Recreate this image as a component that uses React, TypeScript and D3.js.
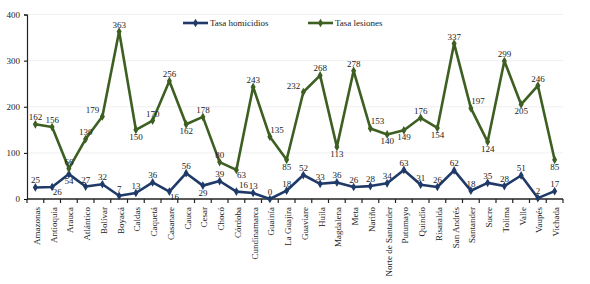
import React, { useRef, useEffect } from "react";
import * as d3 from "d3";

const departamentos = [
  "Amazonas", "Antioquia", "Arauca", "Atlántico", "Bolívar", "Boyacá", "Caldas", "Caquetá",
  "Casanare", "Cauca", "Cesar", "Chocó", "Córdoba", "Cundinamarca", "Guainía", "La Guajira",
  "Guaviare", "Huila", "Magdalena", "Meta", "Nariño", "Norte de Santander", "Putumayo", "Quindío",
  "Risaralda", "San Andrés", "Santander", "Sucre", "Tolima", "Valle", "Vaupés", "Vichada",
];

const tasaHomicidios = [
  25, 26, 54, 27, 32, 7, 13, 36, 16, 56, 29, 39, 16, 13, 0, 18,
  52, 33, 36, 26, 28, 34, 63, 31, 26, 62, 18, 35, 28, 51, 2, 17,
];

const tasaLesiones = [
  162, 156, 66, 130, 179, 363, 150, 170, 256, 162, 178, 80, 63, 243, 135, 85,
  232, 268, 113, 278, 153, 140, 149, 176, 154, 337, 197, 124, 299, 205, 246, 85,
];

const yTicks = [0, 100, 200, 300, 400];

// where each data label sits: a above, b below, l left, r above-right, c below-right
const homicidiosLabelPos = "acbaaaaacabaraaaaaaaaaaaaaaaaaaa".split("");
const lesionesLabelPos = "aaaalabaabaacarblabarbbabarbabab".split("");

const series = [
  { name: "Tasa homicidios", values: tasaHomicidios, pos: homicidiosLabelPos, color: "#1f3a68" },
  { name: "Tasa lesiones", values: tasaLesiones, pos: lesionesLabelPos, color: "#3d5f22" },
];

export default function App() {
  const svgRef = useRef(null);

  useEffect(() => {
    const svg = d3.select(svgRef.current);
    svg.selectAll("*").remove();

    const font = "Liberation Serif";
    const fs = 9;
    const ink = "#222";
    const x = d3.scaleBand().domain(departamentos).range([27, 563]);
    const y = d3.scaleLinear().domain([0, 400]).range([199, 14.5]);

    // faint gridlines
    svg.append("g")
      .selectAll("line")
      .data(yTicks.slice(1))
      .enter()
      .append("line")
      .attr("x1", 27).attr("x2", 563)
      .attr("y1", (d) => y(d)).attr("y2", (d) => y(d))
      .attr("stroke", "#f0f0f0");

    // y axis
    const yAxis = svg.append("g")
      .attr("transform", "translate(27,0)")
      .call(d3.axisLeft(y).tickValues(yTicks).tickSize(3).tickPadding(4));
    yAxis.select(".domain").attr("stroke", ink).attr("stroke-width", 1.2);
    yAxis.selectAll("text").attr("font-family", font).attr("font-size", fs).attr("fill", ink);

    // x axis
    const xAxis = svg.append("g").attr("transform", "translate(0,199)");
    xAxis.append("line")
      .attr("x1", 27).attr("x2", 563).attr("stroke", ink).attr("stroke-width", 1.5);
    xAxis.selectAll("line.tick")
      .data(d3.range(departamentos.length + 1))
      .enter()
      .append("line")
      .attr("class", "tick")
      .attr("x1", (i) => 27 + i * x.step()).attr("x2", (i) => 27 + i * x.step())
      .attr("y1", 0).attr("y2", 4)
      .attr("stroke", ink).attr("stroke-width", 1.2);
    xAxis.selectAll("text")
      .data(departamentos)
      .enter()
      .append("text")
      .attr("transform", (d) => `translate(${x(d) + x.bandwidth() / 2 + 4.5},8) rotate(-90)`)
      .attr("text-anchor", "end")
      .attr("font-family", font)
      .attr("font-size", fs)
      .attr("fill", ink)
      .text((d) => d);

    const cx = (i) => x(departamentos[i]) + x.bandwidth() / 2;
    const line = d3.line().x((d, i) => cx(i)).y((d) => y(d));
    const diamond = d3.symbol().type(d3.symbolDiamond).size(22);

    const dx = { a: 0, b: 0, l: -10, r: 7, c: 5 };
    const dy = { a: -4, b: 10, l: -3, r: -4, c: 8 };

    series.forEach((s) => {
      const g = svg.append("g");
      g.append("path")
        .attr("d", line(s.values))
        .attr("fill", "none")
        .attr("stroke", s.color)
        .attr("stroke-width", 2.6)
        .attr("stroke-linejoin", "round");
      g.selectAll("path.mark")
        .data(s.values)
        .enter()
        .append("path")
        .attr("class", "mark")
        .attr("d", diamond)
        .attr("transform", (d, i) => `translate(${cx(i)},${y(d)})`)
        .attr("fill", s.color);
      g.selectAll("text")
        .data(s.values)
        .enter()
        .append("text")
        .attr("x", (d, i) => cx(i) + dx[s.pos[i]])
        .attr("y", (d, i) => y(d) + dy[s.pos[i]])
        .attr("text-anchor", "middle")
        .attr("font-family", font)
        .attr("font-size", fs)
        .attr("fill", ink)
        .text((d) => d);
    });

    // legend
    const legendX = [183, 308];
    series.forEach((s, k) => {
      const lg = svg.append("g").attr("transform", `translate(${legendX[k]},23)`);
      lg.append("line").attr("x1", 0).attr("x2", 25).attr("stroke", s.color).attr("stroke-width", 2.6);
      lg.append("path").attr("d", diamond).attr("transform", "translate(12.5,0)").attr("fill", s.color);
      lg.append("text")
        .attr("x", 27).attr("y", 3)
        .attr("font-family", font)
        .attr("font-size", fs)
        .attr("fill", ink)
        .text(s.name);
    });
  }, []);

  return (
    <svg
      ref={svgRef}
      width={590}
      height={284}
      style={{ position: "absolute", left: 0, top: 0, background: "#fff" }}
    />
  );
}
